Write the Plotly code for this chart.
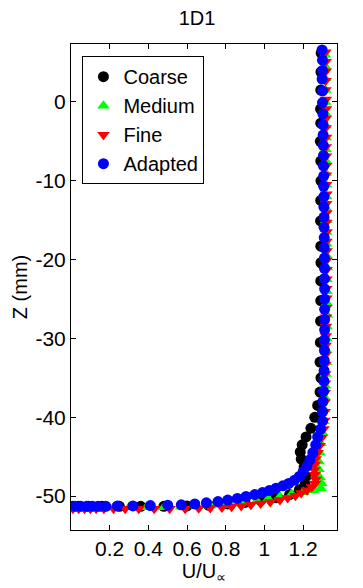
import plotly.graph_objects as go

# velocity profiles U/U_inf vs Z (mm) for the four meshes
coarse_u = [1.293, 1.292, 1.291, 1.290, 1.291, 1.289, 1.291, 1.292, 1.291, 1.290, 1.291,
            1.292, 1.291, 1.291, 1.290, 1.289, 1.287, 1.292, 1.287, 1.275, 1.26, 1.24,
            1.215, 1.195, 1.185, 1.19, 1.205, 1.215, 1.21, 1.18, 1.13, 1.06, 0.98, 0.90,
            0.81, 0.71, 0.60, 0.48, 0.36, 0.25, 0.16, 0.09, 0.04, 0.01]
coarse_z = [6.2, 3.8, 1.5, -0.9, -2.7, -5.0, -7.5, -10.0, -12.5, -15.1, -18.3,
            -20.4, -22.7, -25.2, -27.8, -30.5, -33.0, -35.0, -36.8, -38.5, -40.0, -41.4,
            -42.5, -43.5, -44.4, -45.3, -46.3, -47.5, -48.5, -49.2, -49.8, -50.2, -50.55, -50.8,
            -51.0, -51.15, -51.25, -51.3, -51.3, -51.3, -51.3, -51.3, -51.3, -51.3]

medium_u = [1.312, 1.314, 1.313, 1.315, 1.314, 1.316, 1.315, 1.317, 1.316, 1.318, 1.317,
            1.318, 1.319, 1.318, 1.320, 1.319, 1.320, 1.321, 1.322, 1.320, 1.321, 1.322,
            1.323, 1.321, 1.320, 1.319, 1.318, 1.316, 1.314, 1.311, 1.308,
            1.305, 1.30, 1.29, 1.285, 1.28, 1.28, 1.285, 1.295, 1.29, 1.25, 1.20, 1.14,
            1.08, 1.02, 0.96, 0.90, 0.84, 0.78, 0.72, 0.65, 0.57, 0.48, 0.39, 0.30,
            0.22, 0.15, 0.10, 0.06, 0.03, 0.01]
medium_z = [6.0, 4.5, 3.0, 1.5, 0.0, -1.5, -3.0, -4.5, -6.0, -7.5, -9.0,
            -10.5, -12.0, -13.5, -15.0, -16.5, -18.0, -19.5, -21.0, -22.5, -24.0, -25.5,
            -27.0, -28.5, -30.0, -31.5, -33.0, -34.5, -36.0, -37.5, -39.0,
            -40.5, -42.0, -43.3, -44.5, -45.6, -46.6, -47.6, -48.4, -49.0, -49.25, -49.5, -49.75,
            -50.05, -50.35, -50.6, -50.8, -50.95, -51.1, -51.2, -51.3, -51.35, -51.4, -51.4, -51.4,
            -51.4, -51.4, -51.4, -51.4, -51.4, -51.4]

fine_u = [1.315, 1.316, 1.317, 1.316, 1.315, 1.317, 1.318, 1.317, 1.316, 1.318, 1.317,
          1.318, 1.319, 1.318, 1.319, 1.320, 1.319, 1.320, 1.320, 1.321, 1.320, 1.321,
          1.320, 1.321, 1.320, 1.319, 1.320, 1.319, 1.318, 1.318, 1.317, 1.316, 1.315,
          1.315, 1.314, 1.313, 1.312, 1.311, 1.311,
          1.31, 1.305, 1.295, 1.285, 1.275, 1.265, 1.26, 1.258, 1.26, 1.265, 1.262, 1.245,
          1.22, 1.19, 1.16, 1.12, 1.08, 1.03, 0.98, 0.93, 0.88, 0.83, 0.78, 0.72,
          0.66, 0.59, 0.51, 0.43, 0.35, 0.28, 0.22, 0.17, 0.13, 0.10, 0.07, 0.04, 0.01]
fine_z = [6.3, 5.1, 3.9, 2.7, 1.5, 0.3, -0.9, -2.1, -3.3, -4.5, -5.7,
          -6.9, -8.1, -9.3, -10.5, -11.7, -12.9, -14.1, -15.3, -16.5, -17.7, -18.9,
          -20.1, -21.3, -22.5, -23.7, -24.9, -26.1, -27.3, -28.5, -29.7, -30.9, -32.1,
          -33.3, -34.5, -35.7, -36.9, -38.1, -39.3,
          -40.4, -41.5, -42.6, -43.6, -44.5, -45.3, -46.0, -46.7, -47.3, -47.9, -48.4, -48.85,
          -49.25, -49.6, -49.95, -50.25, -50.5, -50.75, -50.95, -51.1, -51.25, -51.35, -51.45, -51.5,
          -51.55, -51.6, -51.6, -51.6, -51.6, -51.6, -51.6, -51.6, -51.6, -51.6, -51.6, -51.6, -51.6]

adapted_u = [1.298, 1.300, 1.300, 1.298, 1.300, 1.300, 1.302, 1.303, 1.303, 1.304, 1.305,
             1.305, 1.306, 1.306, 1.307, 1.307, 1.308, 1.308, 1.309, 1.309, 1.310, 1.310,
             1.310, 1.311, 1.311, 1.311, 1.311, 1.311, 1.310, 1.310, 1.309, 1.308, 1.307,
             1.305, 1.302, 1.300,
             1.30, 1.29, 1.275, 1.265, 1.25, 1.235, 1.22, 1.20, 1.18, 1.155, 1.125, 1.095,
             1.06, 1.025, 0.99, 0.95, 0.905, 0.86, 0.81, 0.76, 0.70, 0.64, 0.57, 0.50,
             0.41, 0.32, 0.24, 0.18, 0.14, 0.11, 0.08, 0.05, 0.02]
adapted_z = [6.6, 5.3, 4.0, 2.9, 1.4, -0.1, -1.5, -2.9, -4.2, -5.5, -6.8,
             -8.1, -9.4, -10.7, -12.0, -13.3, -14.6, -15.9, -17.2, -18.5, -19.8, -21.1,
             -22.4, -23.7, -25.0, -26.3, -27.6, -28.9, -30.2, -31.5, -32.8, -34.1, -35.4,
             -36.7, -38.0, -39.3,
             -40.5, -41.5, -42.5, -43.5, -44.5, -45.4, -46.2, -46.9, -47.5, -48.0, -48.4, -48.7,
             -49.0, -49.3, -49.55, -49.8, -50.05, -50.3, -50.5, -50.7, -50.85, -51.0, -51.1, -51.15,
             -51.2, -51.25, -51.25, -51.3, -51.3, -51.3, -51.3, -51.3, -51.3]

x_ticks = [0.2, 0.4, 0.6, 0.8, 1.0, 1.2]
x_tick_text = ["0.2", "0.4", "0.6", "0.8", "1", "1.2"]
y_ticks = [-50, -40, -30, -20, -10, 0]
y_tick_text = ["-50", "-40", "-30", "-20", "-10", "0"]

FONT = "Liberation Sans, Arial, sans-serif"

fig = go.Figure()
series = [
    ("Coarse", coarse_u, coarse_z, "circle", "#000000"),
    ("Medium", medium_u, medium_z, "triangle-up", "#00ff00"),
    ("Fine", fine_u, fine_z, "triangle-down", "#ff0000"),
    ("Adapted", adapted_u, adapted_z, "circle", "#0000ff"),
]
for name, u, z, sym, col in series:
    fig.add_trace(go.Scatter(
        x=u, y=z, mode="markers", name=name,
        marker=dict(symbol=sym, color=col, size=11, line=dict(width=0)),
    ))

axis_common = dict(
    showgrid=False, zeroline=False, showline=True, linecolor="black", linewidth=1,
    mirror="ticks", ticks="inside", ticklen=5, tickcolor="black",
    tickfont=dict(family=FONT, size=21, color="black"),
)
fig.update_xaxes(range=[0, 1.375], tickvals=x_ticks, ticktext=x_tick_text,
                 title=dict(text="U/U<sub>∝</sub>", font=dict(family=FONT, size=20, color="black"),
                            standoff=0),
                 **axis_common)
fig.update_yaxes(range=[-54.3, 7.35], tickvals=y_ticks, ticktext=y_tick_text,
                 title=dict(text="Z (mm)", font=dict(family=FONT, size=20, color="black"),
                            standoff=2),
                 **axis_common)

# the page body adds an 8px offset, so the figure is drawn 8px smaller
fig.update_layout(
    width=355, height=580,
    paper_bgcolor="white", plot_bgcolor="white",
    margin=dict(l=63, r=26, t=36, b=58),
    title=dict(text="1D1", x=189 / 355, xanchor="center", y=1 - 10 / 580, yanchor="middle",
               font=dict(family=FONT, size=20, color="black")),
    font=dict(family=FONT, size=20, color="black"),
    legend=dict(x=0.043, y=0.975, xanchor="left", yanchor="top",
                bordercolor="black", borderwidth=1, bgcolor="white",
                font=dict(family=FONT, size=20, color="black"),
                itemwidth=30),
    showlegend=True,
)

fig.write_html("out.html")
